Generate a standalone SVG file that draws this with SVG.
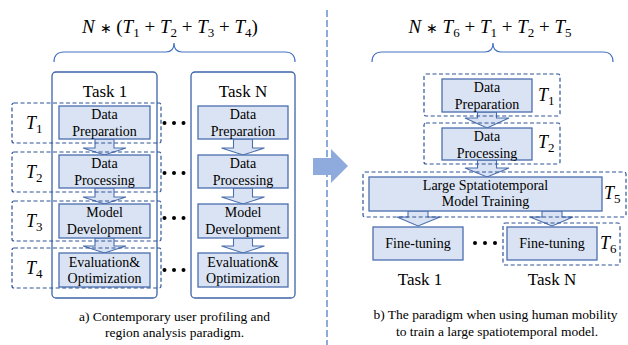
<svg xmlns="http://www.w3.org/2000/svg" width="628" height="345" viewBox="0 0 628 345">
<defs>
<style>
.box{fill:#dae3f3;stroke:#4a6fae;stroke-width:1.3}
.task{fill:none;stroke:#3d64a8;stroke-width:1.3}
.dash{fill:none;stroke:#2f5597;stroke-width:1.2;stroke-dasharray:4 2.5}
.brace{fill:none;stroke:#4472c4;stroke-width:1.2}
.arr{fill:#dae3f3;stroke:#4a6fae;stroke-width:1.1}
.big{fill:#8faadc}
.div{stroke:#8faadc;stroke-width:2;stroke-dasharray:7 3}
text{font-family:'Liberation Serif',serif;fill:#000}
.bt{font-size:14px;text-anchor:middle}
.tk{font-size:17px;text-anchor:middle}
.cap{font-size:13.5px;text-anchor:middle}
.m{font-size:18px}
.f{font-size:19px}
.i{font-style:italic}
.s{font-size:13px}
.ast{font-size:14px}
.dot{fill:#000}
</style>
</defs>
<rect width="628" height="345" fill="#fff"/>

<g id="formula-left">
<text class="f" x="170" y="33" text-anchor="middle"><tspan class="i">N</tspan> <tspan class="ast">∗</tspan> (<tspan class="i">T</tspan><tspan class="s" dy="4">1</tspan><tspan dy="-4"> + </tspan><tspan class="i">T</tspan><tspan class="s" dy="4">2</tspan><tspan dy="-4"> + </tspan><tspan class="i">T</tspan><tspan class="s" dy="4">3</tspan><tspan dy="-4"> + </tspan><tspan class="i">T</tspan><tspan class="s" dy="4">4</tspan><tspan dy="-4">)</tspan></text>
<path class="brace" d="M54,62 Q54,52 64,52 L166,52 Q174,52 174,43 Q174,52 182,52 L285,52 Q295,52 295,62"/>
</g>

<g id="task1-col">
<rect class="task" x="52" y="72" width="105" height="226" rx="4"/>
<text class="tk" x="105" y="97">Task 1</text>
</g>
<g id="taskN-col">
<rect class="task" x="191" y="72" width="104" height="226" rx="4"/>
<text class="tk" x="243" y="97">Task N</text>
</g>

<g id="connectors">
<path class="arr" d="M95,139 V148 H83 L104.5,155 L126,148 H114 V139 Z"/>
<path class="arr" d="M95,188 V197 H83 L104.5,204 L126,197 H114 V188 Z"/>
<path class="arr" d="M95,238 V246 H83 L104.5,253 L126,246 H114 V238 Z"/>
<path class="arr" d="M233.5,139 V148 H221.5 L243,155 L264.5,148 H252.5 V139 Z"/>
<path class="arr" d="M233.5,188 V197 H221.5 L243,204 L264.5,197 H252.5 V188 Z"/>
<path class="arr" d="M233.5,238 V246 H221.5 L243,253 L264.5,246 H252.5 V238 Z"/>
<path class="arr" d="M477.5,112 V118 H465 L487,128 L509,118 H496.5 V112 Z"/>
<path class="arr" d="M477.5,160 V168 H465 L487,177 L509,168 H496.5 V160 Z"/>
<path class="arr" d="M408,211 V217 H397 L418,226 L440,217 H428 V211 Z"/>
<path class="arr" d="M542,211 V217 H530 L552,226 L573,217 H562 V211 Z"/>
<path class="big" d="M313,158 H331 V149 L348,166 L331,183 V175 H313 Z"/>
<line class="div" x1="327" y1="10" x2="327" y2="345"/>
</g>

<g id="t1-prep"><rect class="box" x="59" y="106" width="91" height="33"/><text class="bt" x="104.5" y="119">Data</text><text class="bt" x="104.5" y="136">Preparation</text></g>
<g id="t1-proc"><rect class="box" x="59" y="155" width="91" height="33"/><text class="bt" x="104.5" y="168">Data</text><text class="bt" x="104.5" y="185">Processing</text></g>
<g id="t1-model"><rect class="box" x="59" y="204" width="91" height="34"/><text class="bt" x="104.5" y="217">Model</text><text class="bt" x="104.5" y="234">Development</text></g>
<g id="t1-eval"><rect class="box" x="59" y="253" width="91" height="34"/><text class="bt" x="104.5" y="267">Evaluation&amp;</text><text class="bt" x="104.5" y="283">Optimization</text></g>

<g id="tN-prep"><rect class="box" x="198" y="106" width="90" height="33"/><text class="bt" x="243" y="119">Data</text><text class="bt" x="243" y="136">Preparation</text></g>
<g id="tN-proc"><rect class="box" x="198" y="155" width="90" height="33"/><text class="bt" x="243" y="168">Data</text><text class="bt" x="243" y="185">Processing</text></g>
<g id="tN-model"><rect class="box" x="198" y="204" width="90" height="34"/><text class="bt" x="243" y="217">Model</text><text class="bt" x="243" y="234">Development</text></g>
<g id="tN-eval"><rect class="box" x="198" y="253" width="90" height="34"/><text class="bt" x="243" y="267">Evaluation&amp;</text><text class="bt" x="243" y="283">Optimization</text></g>

<g id="row-T1"><rect class="dash" x="12" y="103" width="149" height="40" rx="2"/><text class="m" x="26" y="128.5"><tspan class="i">T</tspan><tspan class="s" dy="4">1</tspan></text></g>
<g id="row-T2"><rect class="dash" x="12" y="152" width="149" height="40" rx="2"/><text class="m" x="26" y="177.5"><tspan class="i">T</tspan><tspan class="s" dy="4">2</tspan></text></g>
<g id="row-T3"><rect class="dash" x="12" y="201" width="149" height="40" rx="2"/><text class="m" x="26" y="226.5"><tspan class="i">T</tspan><tspan class="s" dy="4">3</tspan></text></g>
<g id="row-T4"><rect class="dash" x="12" y="248" width="149" height="40" rx="2"/><text class="m" x="26" y="273.5"><tspan class="i">T</tspan><tspan class="s" dy="4">4</tspan></text></g>

<g id="dots-left">
<circle class="dot" cx="164.5" cy="123" r="2"/><circle class="dot" cx="174" cy="123" r="2"/><circle class="dot" cx="183.5" cy="123" r="2"/>
<circle class="dot" cx="164.5" cy="173" r="2"/><circle class="dot" cx="174" cy="173" r="2"/><circle class="dot" cx="183.5" cy="173" r="2"/>
<circle class="dot" cx="164.5" cy="218" r="2"/><circle class="dot" cx="174" cy="218" r="2"/><circle class="dot" cx="183.5" cy="218" r="2"/>
<circle class="dot" cx="164.5" cy="270" r="2"/><circle class="dot" cx="174" cy="270" r="2"/><circle class="dot" cx="183.5" cy="270" r="2"/>
</g>

<g id="caption-a">
<text class="cap" x="174.5" y="321">a) Contemporary user profiling and</text>
<text class="cap" x="174.5" y="337">region analysis paradigm.</text>
</g>

<g id="formula-right">
<text class="f" x="490" y="33" text-anchor="middle"><tspan class="i">N</tspan> <tspan class="ast">∗</tspan> <tspan class="i">T</tspan><tspan class="s" dy="4">6</tspan><tspan dy="-4"> + </tspan><tspan class="i">T</tspan><tspan class="s" dy="4">1</tspan><tspan dy="-4"> + </tspan><tspan class="i">T</tspan><tspan class="s" dy="4">2</tspan><tspan dy="-4"> + </tspan><tspan class="i">T</tspan><tspan class="s" dy="4">5</tspan></text>
<path class="brace" d="M372,62 Q372,52 382,52 L485,52 Q493,52 493,43 Q493,52 501,52 L603,52 Q613,52 613,62"/>
</g>

<g id="r-prep"><rect class="box" x="442" y="79" width="90" height="33"/><text class="bt" x="487" y="92">Data</text><text class="bt" x="487" y="109">Preparation</text></g>
<g id="r-proc"><rect class="box" x="442" y="128" width="90" height="32"/><text class="bt" x="487" y="141">Data</text><text class="bt" x="487" y="158">Processing</text></g>
<g id="r-large"><rect class="box" x="369" y="177" width="233" height="34"/><text class="bt" x="485.5" y="190">Large Sptatiotemporal</text><text class="bt" x="485.5" y="206">Model Training</text></g>
<g id="r-ft1"><rect class="box" x="373" y="227" width="90" height="33"/><text class="bt" x="418" y="248">Fine-tuning</text></g>
<g id="r-ftN"><rect class="box" x="507" y="227" width="90" height="33"/><text class="bt" x="552" y="248">Fine-tuning</text></g>

<g id="r-T1"><rect class="dash" x="424" y="74" width="136" height="42" rx="2"/><text class="m" x="538" y="100.5"><tspan class="i">T</tspan><tspan class="s" dy="4">1</tspan></text></g>
<g id="r-T2"><rect class="dash" x="424" y="123" width="136" height="41" rx="2"/><text class="m" x="538" y="148"><tspan class="i">T</tspan><tspan class="s" dy="4">2</tspan></text></g>
<g id="r-T5"><rect class="dash" x="363" y="172" width="263" height="45" rx="2"/><text class="m" x="604" y="199"><tspan class="i">T</tspan><tspan class="s" dy="4">5</tspan></text></g>
<g id="r-T6"><rect class="dash" x="503" y="223" width="117" height="42" rx="2"/><text class="m" x="600" y="249"><tspan class="i">T</tspan><tspan class="s" dy="4">6</tspan></text></g>

<g id="dots-right">
<circle class="dot" cx="475" cy="243" r="2"/><circle class="dot" cx="485" cy="243" r="2"/><circle class="dot" cx="495" cy="243" r="2"/>
</g>

<g id="labels-right">
<text class="tk" x="420" y="285">Task 1</text>
<text class="tk" x="552" y="285">Task N</text>
</g>

<g id="caption-b">
<text class="cap" x="495.5" y="319">b) The paradigm when using human mobility</text>
<text class="cap" x="497" y="336">to train a large spatiotemporal model.</text>
</g>
</svg>
